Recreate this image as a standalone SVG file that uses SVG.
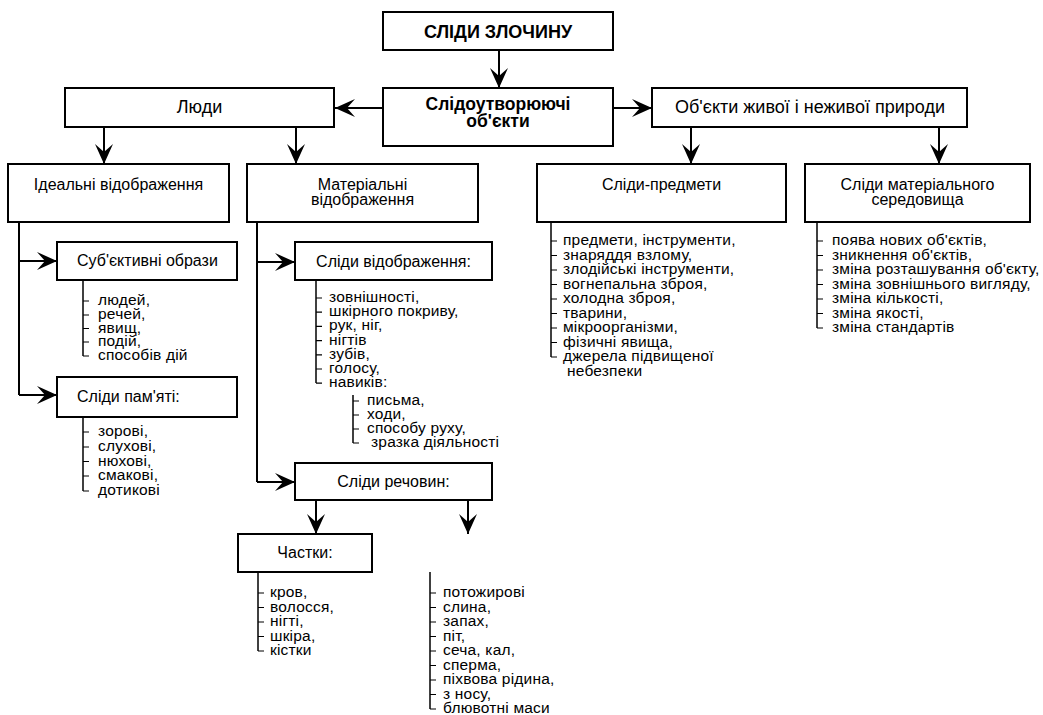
<svg xmlns="http://www.w3.org/2000/svg" width="1043" height="715" viewBox="0 0 1043 715">
<style>
  .box{fill:#fff;stroke:#000;stroke-width:2}
  .t{font-family:"Liberation Sans",Arial,sans-serif;font-size:16px;fill:#000}
  .l{font-size:15.5px;letter-spacing:0.2px}
  .c{text-anchor:middle}
  .big{font-size:18px}
  .b{font-weight:bold}
  .ln{stroke:#000;stroke-width:2;fill:none}
  .ls{stroke:#000;stroke-width:1.5;fill:none}
  .tk{stroke:#000;stroke-width:1.2;fill:none}
</style>
<defs>
  <marker id="ah" markerUnits="userSpaceOnUse" markerWidth="20" markerHeight="18" viewBox="0 0 20 18" refX="20" refY="9" orient="auto">
    <path d="M20,9 L0,0 L8,9 L0,18 Z" fill="#000"/>
  </marker>
</defs>
<rect width="1043" height="715" fill="#fff"/>

<g id="connectors">
  <line class="ln" x1="499" y1="50" x2="499" y2="88" marker-end="url(#ah)"/>
  <line class="ln" x1="383" y1="108" x2="335" y2="108" marker-end="url(#ah)"/>
  <line class="ln" x1="613" y1="108" x2="652" y2="108" marker-end="url(#ah)"/>
  <line class="ln" x1="104" y1="127" x2="104" y2="164" marker-end="url(#ah)"/>
  <line class="ln" x1="296" y1="127" x2="296" y2="164" marker-end="url(#ah)"/>
  <line class="ln" x1="691" y1="127" x2="691" y2="164" marker-end="url(#ah)"/>
  <line class="ln" x1="939" y1="127" x2="939" y2="164" marker-end="url(#ah)"/>
  <polyline class="ln" points="19,222 19,395"/>
  <line class="ln" x1="19" y1="261" x2="57" y2="261" marker-end="url(#ah)"/>
  <line class="ln" x1="19" y1="395" x2="57" y2="395" marker-end="url(#ah)"/>
  <polyline class="ln" points="257,222 257,482"/>
  <line class="ln" x1="257" y1="262" x2="295" y2="262" marker-end="url(#ah)"/>
  <line class="ln" x1="257" y1="482" x2="295" y2="482" marker-end="url(#ah)"/>
  <line class="ln" x1="316" y1="500" x2="316" y2="534" marker-end="url(#ah)"/>
  <line class="ln" x1="468" y1="500" x2="468" y2="534" marker-end="url(#ah)"/>
</g>

<g id="n-title">
  <rect class="box" x="383" y="12" width="230" height="38"/>
  <text class="t big b c" x="498" y="38">СЛІДИ ЗЛОЧИНУ</text>
</g>
<g id="n-objects">
  <rect class="box" x="383" y="88" width="230" height="58"/>
  <text class="t b c" style="font-size:17.5px" x="498" y="110">Слідоутворюючі</text>
  <text class="t b c" style="font-size:17.5px" x="498" y="127">об'єкти</text>
</g>
<g id="n-people">
  <rect class="box" x="65" y="88" width="269" height="39"/>
  <text class="t big c" x="199.5" y="113">Люди</text>
</g>
<g id="n-nature">
  <rect class="box" x="652" y="88" width="315" height="39"/>
  <text class="t big c" x="810" y="113">Об'єкти живої і неживої природи</text>
</g>
<g id="n-ideal">
  <rect class="box" x="8" y="164" width="221" height="58"/>
  <text class="t c" x="118.5" y="190">Ідеальні відображення</text>
</g>
<g id="n-material">
  <rect class="box" x="247" y="164" width="231" height="58"/>
  <text class="t c" x="362.5" y="190">Матеріальні</text>
  <text class="t c" x="362.5" y="205">відображення</text>
</g>
<g id="n-items">
  <rect class="box" x="537" y="164" width="249" height="58"/>
  <text class="t c" x="661.5" y="190">Сліди-предмети</text>
  <path class="ls" d="M551,222 V357"/>
  <path class="tk" d="M551,241 h6 M551,255.5 h6 M551,270 h6 M551,284.5 h6 M551,299 h6 M551,313.5 h6 M551,328 h6 M551,342.5 h6 M551,357 h6"/>
  <text class="t l" x="563" y="245">предмети, інструменти,</text>
  <text class="t l" x="563" y="259.5">знаряддя взлому,</text>
  <text class="t l" x="563" y="274">злодійські інструменти,</text>
  <text class="t l" x="563" y="288.5">вогнепальна зброя,</text>
  <text class="t l" x="563" y="303">холодна зброя,</text>
  <text class="t l" x="563" y="317.5">тварини,</text>
  <text class="t l" x="563" y="332">мікроорганізми,</text>
  <text class="t l" x="563" y="346.5">фізичні явища,</text>
  <text class="t l" x="563" y="361">джерела підвищеної</text>
  <text class="t l" x="567" y="375.5">небезпеки</text>
</g>
<g id="n-environment">
  <rect class="box" x="805" y="164" width="225" height="58"/>
  <text class="t c" x="917.5" y="190">Сліди матеріального</text>
  <text class="t c" x="917.5" y="205">середовища</text>
  <path class="ls" d="M817,222 V328"/>
  <path class="tk" d="M817,241 h6 M817,255.5 h6 M817,270 h6 M817,284.5 h6 M817,299 h6 M817,313.5 h6 M817,328 h6"/>
  <text class="t l" x="832" y="245">поява нових об'єктів,</text>
  <text class="t l" x="832" y="259.5">зникнення об'єктів,</text>
  <text class="t l" x="832" y="274">зміна розташування об'єкту,</text>
  <text class="t l" x="832" y="288.5">зміна зовнішнього вигляду,</text>
  <text class="t l" x="832" y="303">зміна кількості,</text>
  <text class="t l" x="832" y="317.5">зміна якості,</text>
  <text class="t l" x="832" y="332">зміна стандартів</text>
</g>
<g id="n-subjective">
  <rect class="box" x="57" y="242" width="180" height="38"/>
  <text class="t" x="77" y="266">Суб'єктивні образи</text>
  <path class="ls" d="M83,280 V356"/>
  <path class="tk" d="M83,301 h6 M83,315 h6 M83,328.5 h6 M83,342 h6 M83,356 h6"/>
  <text class="t l" x="98" y="305">людей,</text>
  <text class="t l" x="98" y="319">речей,</text>
  <text class="t l" x="98" y="332.5">явищ,</text>
  <text class="t l" x="98" y="346">подій,</text>
  <text class="t l" x="98" y="360">способів дій</text>
</g>
<g id="n-memory">
  <rect class="box" x="57" y="377" width="180" height="40"/>
  <text class="t" x="77" y="402">Сліди пам'яті:</text>
  <path class="ls" d="M83,417 V491"/>
  <path class="tk" d="M83,432 h6 M83,447 h6 M83,461.5 h6 M83,476 h6 M83,491 h6"/>
  <text class="t l" x="98" y="436">зорові,</text>
  <text class="t l" x="98" y="451">слухові,</text>
  <text class="t l" x="98" y="465.5">нюхові,</text>
  <text class="t l" x="98" y="480">смакові,</text>
  <text class="t l" x="98" y="495">дотикові</text>
</g>
<g id="n-reflection">
  <rect class="box" x="295" y="242" width="197" height="38"/>
  <text class="t c" x="393.5" y="267">Сліди відображення:</text>
  <path class="ls" d="M316,280 V383"/>
  <path class="tk" d="M316,298 h6 M316,312.2 h6 M316,326.4 h6 M316,340.6 h6 M316,354.8 h6 M316,369 h6 M316,383.2 h6"/>
  <text class="t l" x="329" y="302">зовнішності,</text>
  <text class="t l" x="329" y="316.2">шкірного покриву,</text>
  <text class="t l" x="329" y="330.4">рук, ніг,</text>
  <text class="t l" x="329" y="344.6">нігтів</text>
  <text class="t l" x="329" y="358.8">зубів,</text>
  <text class="t l" x="329" y="373">голосу,</text>
  <text class="t l" x="329" y="387.2">навиків:</text>
  <path class="ls" d="M353,395 V443"/>
  <path class="tk" d="M353,401 h6 M353,415 h6 M353,429 h6 M353,443 h6"/>
  <text class="t l" x="367" y="405">письма,</text>
  <text class="t l" x="367" y="419">ходи,</text>
  <text class="t l" x="367" y="433">способу руху,</text>
  <text class="t l" x="371" y="447">зразка діяльності</text>
</g>
<g id="n-substances">
  <rect class="box" x="295" y="463" width="197" height="37"/>
  <text class="t c" x="393.5" y="487">Сліди речовин:</text>
</g>
<g id="n-particles">
  <rect class="box" x="238" y="534" width="134" height="38"/>
  <text class="t c" x="305" y="558">Частки:</text>
  <path class="ls" d="M258,572 V651"/>
  <path class="tk" d="M258,593 h6 M258,607.5 h6 M258,622 h6 M258,636.5 h6 M258,651 h6"/>
  <text class="t l" x="270" y="597">кров,</text>
  <text class="t l" x="270" y="611.5">волосся,</text>
  <text class="t l" x="270" y="626">нігті,</text>
  <text class="t l" x="270" y="640.5">шкіра,</text>
  <text class="t l" x="270" y="655">кістки</text>
</g>
<g id="n-fluids">
  <path class="ls" d="M430,572 V709"/>
  <path class="tk" d="M430,593 h6 M430,607.5 h6 M430,622 h6 M430,636.5 h6 M430,651 h6 M430,665.5 h6 M430,680 h6 M430,694.5 h6 M430,709 h6"/>
  <text class="t l" x="443" y="597">потожирові</text>
  <text class="t l" x="443" y="611.5">слина,</text>
  <text class="t l" x="443" y="626">запах,</text>
  <text class="t l" x="443" y="640.5">піт,</text>
  <text class="t l" x="443" y="655">сеча, кал,</text>
  <text class="t l" x="443" y="669.5">сперма,</text>
  <text class="t l" x="443" y="684">піхвова рідина,</text>
  <text class="t l" x="443" y="698.5">з носу,</text>
  <text class="t l" x="443" y="713">блювотні маси</text>
</g>
</svg>
